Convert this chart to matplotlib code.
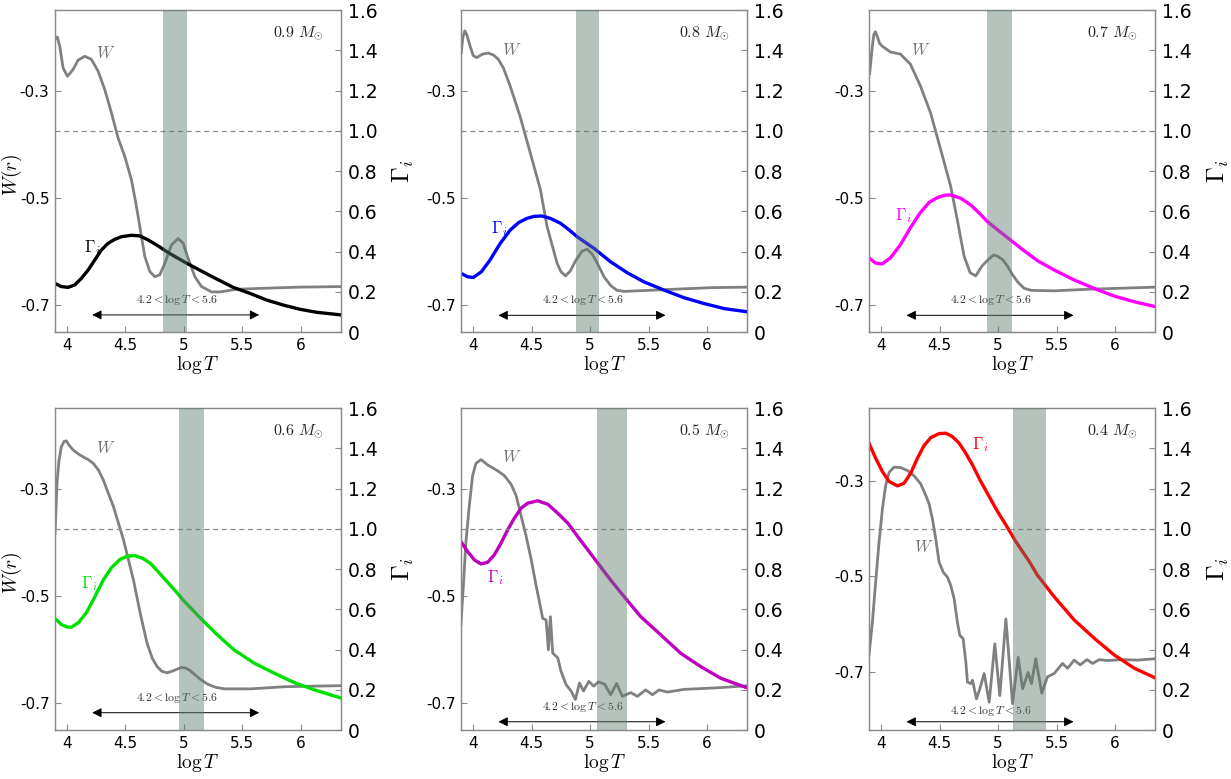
import matplotlib
matplotlib.use("Agg")
import matplotlib.pyplot as plt

plt.rcParams['mathtext.fontset'] = 'cm'
plt.rcParams['font.family'] = 'DejaVu Sans'

# ---------------- data ----------------
masses = ["0.9", "0.8", "0.7", "0.6", "0.5", "0.4"]
gamma_colors = ["black", "#0000ff", "#ff00ff", "#00e000", "#bf00bf", "#ff0000"]

# panel 0.9
w09_x = [3.894, 3.917, 3.937, 3.966, 4.003, 4.051, 4.094, 4.151, 4.209, 4.266, 4.323, 4.38, 4.437, 4.494, 4.551, 4.594, 4.637, 4.666, 4.709, 4.751, 4.794, 4.837, 4.894, 4.951, 4.994, 5.037, 5.094, 5.151, 5.237, 5.31, 5.45, 5.709, 5.994, 6.345]
w09_y = [-0.204, -0.199, -0.216, -0.257, -0.2725, -0.26, -0.2425, -0.235, -0.241, -0.263, -0.2975, -0.341, -0.388, -0.4225, -0.466, -0.516, -0.5725, -0.61, -0.638, -0.6475, -0.644, -0.6225, -0.588, -0.576, -0.585, -0.6135, -0.6475, -0.666, -0.676, -0.676, -0.671, -0.669, -0.667, -0.666]
g09_x = [3.894, 3.951, 4.009, 4.066, 4.123, 4.18, 4.237, 4.294, 4.351, 4.409, 4.466, 4.551, 4.623, 4.694, 4.78, 4.866, 4.951, 5.037, 5.151, 5.266, 5.423, 5.566, 5.709, 5.851, 5.994, 6.137, 6.345]
g09_y = [0.242, 0.226, 0.222, 0.234, 0.267, 0.308, 0.358, 0.408, 0.441, 0.461, 0.474, 0.481, 0.478, 0.458, 0.428, 0.395, 0.366, 0.338, 0.303, 0.268, 0.222, 0.192, 0.159, 0.134, 0.113, 0.098, 0.085]

# panel 0.8
w08_x = [3.897, 3.91, 3.928, 3.945, 3.971, 4.0, 4.029, 4.08, 4.129, 4.175, 4.215, 4.26, 4.316, 4.40, 4.488, 4.574, 4.631, 4.717, 4.75, 4.789, 4.83, 4.875, 4.93, 4.975, 5.02, 5.061, 5.12, 5.176, 5.23, 5.291, 5.606, 6.037, 6.352]
w08_y = [-0.228, -0.200, -0.1875, -0.195, -0.215, -0.234, -0.2375, -0.231, -0.229, -0.233, -0.241, -0.258, -0.291, -0.347, -0.416, -0.484, -0.553, -0.622, -0.638, -0.646, -0.637, -0.618, -0.600, -0.596, -0.606, -0.622, -0.648, -0.664, -0.673, -0.675, -0.672, -0.668, -0.667]
g08_x = [3.897, 3.95, 4.0, 4.07, 4.143, 4.23, 4.316, 4.39, 4.459, 4.52, 4.588, 4.66, 4.746, 4.82, 4.889, 5.033, 5.176, 5.32, 5.463, 5.635, 5.807, 5.979, 6.151, 6.352]
g08_y = [0.291, 0.275, 0.271, 0.300, 0.358, 0.440, 0.507, 0.545, 0.565, 0.575, 0.577, 0.565, 0.541, 0.508, 0.474, 0.416, 0.349, 0.294, 0.249, 0.208, 0.170, 0.141, 0.116, 0.100]

# panel 0.7
w07_x = [3.9, 3.92, 3.935, 3.948, 3.965, 3.985, 4.006, 4.077, 4.163, 4.249, 4.335, 4.421, 4.507, 4.593, 4.65, 4.708, 4.76, 4.808, 4.86, 4.908, 4.96, 4.994, 5.04, 5.08, 5.12, 5.166, 5.22, 5.281, 5.481, 5.768, 6.355]
w07_y = [-0.267, -0.222, -0.195, -0.189, -0.198, -0.211, -0.216, -0.227, -0.231, -0.250, -0.291, -0.341, -0.409, -0.478, -0.541, -0.609, -0.640, -0.646, -0.628, -0.617, -0.607, -0.609, -0.616, -0.628, -0.643, -0.657, -0.669, -0.673, -0.674, -0.671, -0.667]
g07_x = [3.9, 3.95, 4.006, 4.08, 4.163, 4.25, 4.335, 4.41, 4.479, 4.54, 4.593, 4.68, 4.765, 4.84, 4.908, 5.052, 5.195, 5.338, 5.481, 5.653, 5.825, 5.997, 6.169, 6.355]
g07_y = [0.366, 0.343, 0.338, 0.370, 0.434, 0.520, 0.595, 0.645, 0.668, 0.680, 0.682, 0.665, 0.632, 0.590, 0.549, 0.482, 0.416, 0.354, 0.308, 0.258, 0.216, 0.178, 0.150, 0.125]

# panel 0.6
w06_x = [3.897, 3.905, 3.914, 3.93, 3.951, 3.975, 3.994, 4.02, 4.052, 4.1, 4.138, 4.18, 4.224, 4.27, 4.31, 4.397, 4.483, 4.569, 4.626, 4.684, 4.73, 4.77, 4.81, 4.856, 4.9, 4.943, 4.98, 5.014, 5.05, 5.086, 5.14, 5.201, 5.27, 5.345, 5.575, 5.862, 6.351]
w06_y = [-0.383, -0.340, -0.289, -0.248, -0.221, -0.211, -0.210, -0.219, -0.227, -0.235, -0.240, -0.245, -0.252, -0.265, -0.283, -0.333, -0.395, -0.471, -0.532, -0.588, -0.617, -0.632, -0.641, -0.644, -0.641, -0.637, -0.634, -0.635, -0.639, -0.646, -0.656, -0.665, -0.671, -0.674, -0.674, -0.670, -0.668]
g06_x = [3.897, 3.95, 4.0, 4.037, 4.1, 4.167, 4.24, 4.31, 4.38, 4.454, 4.52, 4.583, 4.65, 4.713, 4.78, 4.856, 4.93, 5.0, 5.144, 5.287, 5.431, 5.603, 5.776, 5.948, 6.121, 6.351]
g06_y = [0.555, 0.525, 0.512, 0.511, 0.535, 0.585, 0.665, 0.746, 0.807, 0.849, 0.865, 0.867, 0.853, 0.829, 0.787, 0.738, 0.690, 0.642, 0.555, 0.473, 0.398, 0.332, 0.282, 0.235, 0.199, 0.158]

# panel 0.5
w05_x = [3.894, 3.917, 3.937, 3.966, 3.994, 4.023, 4.066, 4.123, 4.209, 4.266, 4.323, 4.366, 4.409, 4.451, 4.494, 4.537, 4.566, 4.594, 4.623, 4.643, 4.66, 4.68, 4.723, 4.751, 4.794, 4.837, 4.874, 4.909, 4.943, 4.989, 5.031, 5.071, 5.123, 5.176, 5.227, 5.276, 5.348, 5.405, 5.476, 5.534, 5.591, 5.662, 5.805, 6.092, 6.358]
w05_y = [-0.554, -0.474, -0.399, -0.331, -0.275, -0.252, -0.245, -0.255, -0.266, -0.275, -0.291, -0.312, -0.350, -0.387, -0.430, -0.480, -0.511, -0.542, -0.545, -0.601, -0.539, -0.607, -0.616, -0.641, -0.666, -0.678, -0.694, -0.663, -0.678, -0.660, -0.669, -0.661, -0.665, -0.685, -0.664, -0.688, -0.681, -0.688, -0.676, -0.685, -0.676, -0.680, -0.675, -0.672, -0.668]
g05_x = [3.894, 3.951, 4.009, 4.066, 4.123, 4.18, 4.237, 4.294, 4.351, 4.409, 4.466, 4.551, 4.637, 4.723, 4.809, 4.894, 4.98, 5.066, 5.151, 5.266, 5.433, 5.605, 5.777, 5.948, 6.12, 6.358]
g05_y = [0.937, 0.888, 0.846, 0.826, 0.834, 0.871, 0.929, 0.995, 1.053, 1.103, 1.128, 1.140, 1.123, 1.078, 1.029, 0.962, 0.896, 0.830, 0.764, 0.681, 0.564, 0.473, 0.381, 0.315, 0.257, 0.207]

# panel 0.4
w04_x = [3.894, 3.923, 3.951, 3.98, 4.009, 4.037, 4.066, 4.109, 4.166, 4.223, 4.28, 4.337, 4.38, 4.409, 4.437, 4.466, 4.494, 4.529, 4.566, 4.594, 4.623, 4.651, 4.671, 4.7, 4.723, 4.737, 4.766, 4.78, 4.814, 4.843, 4.88, 4.923, 4.971, 5.014, 5.066, 5.123, 5.171, 5.209, 5.256, 5.285, 5.322, 5.373, 5.422, 5.479, 5.551, 5.594, 5.651, 5.702, 5.76, 5.808, 5.866, 5.937, 6.052, 6.195, 6.352]
w04_y = [-0.665, -0.596, -0.512, -0.429, -0.359, -0.310, -0.283, -0.272, -0.273, -0.279, -0.290, -0.307, -0.331, -0.349, -0.380, -0.422, -0.470, -0.491, -0.502, -0.519, -0.547, -0.596, -0.623, -0.630, -0.679, -0.721, -0.724, -0.717, -0.756, -0.735, -0.703, -0.763, -0.641, -0.749, -0.589, -0.766, -0.669, -0.735, -0.701, -0.724, -0.672, -0.744, -0.710, -0.703, -0.682, -0.692, -0.675, -0.685, -0.674, -0.682, -0.674, -0.676, -0.674, -0.675, -0.672]
g04_x = [3.894, 3.951, 4.009, 4.066, 4.137, 4.194, 4.251, 4.309, 4.366, 4.423, 4.494, 4.551, 4.609, 4.666, 4.723, 4.78, 4.851, 4.923, 4.994, 5.066, 5.151, 5.266, 5.336, 5.479, 5.651, 5.823, 5.994, 6.166, 6.352]
g04_y = [1.426, 1.352, 1.285, 1.236, 1.214, 1.227, 1.277, 1.352, 1.415, 1.454, 1.474, 1.476, 1.459, 1.426, 1.376, 1.318, 1.236, 1.161, 1.087, 1.020, 0.937, 0.838, 0.770, 0.663, 0.547, 0.456, 0.373, 0.307, 0.257]

w_x = [w09_x, w08_x, w07_x, w06_x, w05_x, w04_x]
w_y = [w09_y, w08_y, w07_y, w06_y, w05_y, w04_y]
g_x = [g09_x, g08_x, g07_x, g06_x, g05_x, g04_x]
g_y = [g09_y, g08_y, g07_y, g06_y, g05_y, g04_y]

# shaded band edges (log T)
band_lo = [4.82, 4.875, 4.903, 4.957, 5.062, 5.127]
band_hi = [5.03, 5.075, 5.116, 5.17, 5.319, 5.41]

w_ylim_low = [-0.751, -0.751, -0.751, -0.751, -0.751, -0.821]

x_ticks = [4, 4.5, 5, 5.5, 6]
x_ticklabels = ["4", "4.5", "5", "5.5", "6"]
w_ticks = [-0.3, -0.5, -0.7]
w_ticklabels = ["-0.3", "-0.5", "-0.7"]
g_ticks = [0, 0.2, 0.4, 0.6, 0.8, 1.0, 1.2, 1.4, 1.6]
g_ticklabels = ["0", "0.2", "0.4", "0.6", "0.8", "1.0", "1.2", "1.4", "1.6"]

# label positions (data coords: x, Gamma)
w_label_pos = [(4.33, 1.39), (4.33, 1.40), (4.335, 1.40), (4.33, 1.40), (4.33, 1.36), (4.36, 0.91)]
g_label_pos = [(4.22, 0.42), (4.22, 0.515), (4.19, 0.58), (4.19, 0.73), (4.19, 0.76), (4.85, 1.42)]
arrow_y = [0.085, 0.083, 0.083, 0.086, 0.041, 0.041]
arrow_text_y = [0.16, 0.158, 0.158, 0.161, 0.116, 0.096]

# ---------------- figure ----------------
fig = plt.figure(figsize=(12.31, 7.79), dpi=100)
lefts = [0.0447, 0.3747, 0.7062]
width = 0.2323
bottoms = [0.5738, 0.0629]
height = 0.413
spine_c = "#8a8a8a"

for i in range(6):
    r, c = divmod(i, 3)
    ax = fig.add_axes([lefts[c], bottoms[r], width, height])
    ax2 = ax.twinx()
    ax.set_xlim(3.897, 6.345)
    ax.set_ylim(w_ylim_low[i], -0.149)
    ax2.set_ylim(0, 1.6)

    ax.plot(w_x[i], w_y[i], color="#808080", lw=2.0, solid_joinstyle="round")
    ax2.plot(g_x[i], g_y[i], color=gamma_colors[i], lw=2.4, solid_joinstyle="round")
    ax2.axhline(1.0, color="#8c8c8c", lw=0.9, ls=(0, (4, 3)))
    ax2.axvspan(band_lo[i], band_hi[i], color="#5f7a6c", alpha=0.45, lw=0, zorder=5)

    ax2.annotate("", xy=(4.215, arrow_y[i]), xytext=(5.645, arrow_y[i]),
                 arrowprops=dict(arrowstyle="<|-|>", color="black", lw=0.7,
                                 mutation_scale=14, shrinkA=0, shrinkB=0))
    ax2.text(4.94, arrow_text_y[i], r"$4.2 < \log T < 5.6$", fontsize=8.5,
             ha="center", va="center", color="#333333")

    ax2.text(*w_label_pos[i], r"$W$", fontsize=12, color="#777777", ha="center", va="center")
    ax2.text(*g_label_pos[i], r"$\Gamma_i$", fontsize=12, color=gamma_colors[i],
             ha="center", va="center")
    ax2.text(0.85, 0.93, r"$%s\ M_{\odot}$" % masses[i], transform=ax2.transAxes,
             fontsize=11.5, ha="center", va="center", color="#222222")

    ax.set_xticks(x_ticks)
    ax.set_xticklabels(x_ticklabels, fontsize=11)
    ax.set_yticks(w_ticks)
    ax.set_yticklabels(w_ticklabels, fontsize=11)
    ax2.set_yticks(g_ticks)
    ax2.set_yticklabels(g_ticklabels, fontsize=13.5)
    for a in (ax, ax2):
        a.tick_params(direction="in", length=4, width=0.8, color=spine_c, pad=4)
        for s in a.spines.values():
            s.set_color(spine_c)
            s.set_linewidth(0.9)
    ax2.tick_params(axis="y", pad=5)

    ax.set_xlabel(r"$\log T$", fontsize=14, labelpad=1)
    if c == 0:
        ax.set_ylabel(r"$W(r)$", fontsize=14)
        ax.yaxis.set_label_coords(-0.11, 0.49)
    if c != 1:
        ax2.set_ylabel(r"$\Gamma_i$", fontsize=18)
        ax2.yaxis.set_label_coords(1.175, 0.5)

fig.savefig("out.png", dpi=100)
